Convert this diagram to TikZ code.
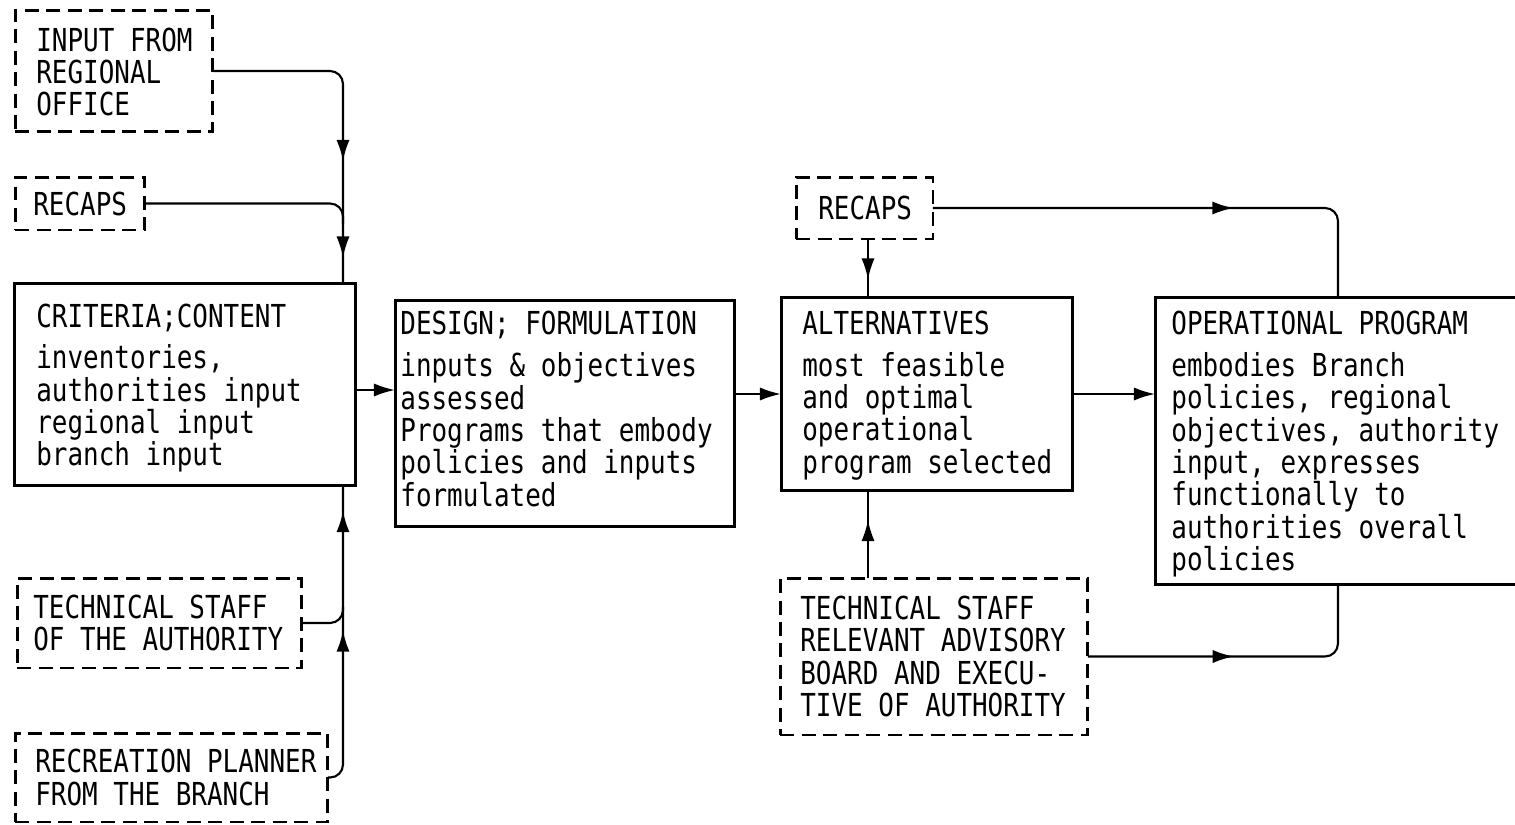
\documentclass[tikz,border=0pt]{standalone}
\usepackage{fontspec}
\newfontfamily\typewriter[FakeStretch=0.82]{DejaVu Sans Mono}
\usetikzlibrary{arrows.meta,decorations.markings}
\begin{document}
\begin{tikzpicture}[x=0.02cm,y=-0.02cm,
  >={Latex[length=12pt,width=7.5pt]},
  label/.style={font=\typewriter\fontsize{18pt}{18.4pt}\selectfont, align=left, inner sep=0pt, anchor=west},
  frame/.style={draw, line width=1.7pt, inner sep=0pt, outer sep=0pt},
  solidbox/.style={frame},
  dashbox/.style={frame, dash pattern=on 0.28cm off 0.15cm},
  link/.style={line width=1.2pt, rounded corners=0.26cm},
  tip/.style={->},
  midtips/.style={postaction={decorate}, decoration={markings, #1}},
]
\useasboundingbox (0,0) rectangle (1515,825);
\clip (0,0) rectangle (1515,825);

% ---------- boxes ----------
\node[dashbox, minimum width=3.96cm, minimum height=2.44cm] (inp) at (114,71) {};
\node[label] (inp-t) at ([xshift=0.42cm,yshift=-0.02cm]inp.west) {INPUT FROM\\REGIONAL\\OFFICE};

\node[dashbox, minimum width=2.6cm, minimum height=1.06cm] (recL) at (80,203.5) {};
\node[label] (recL-t) at ([xshift=0.36cm]recL.west) {RECAPS};

\node[solidbox, minimum width=6.84cm, minimum height=4.06cm] (crit) at (185,384.5) {};
\node[label] (crit-t) at ([xshift=0.44cm,yshift=-0.07cm]crit.west)
  {CRITERIA;CONTENT\\[0.19cm]inventories,\\authorities input\\regional input\\branch input};

\node[dashbox, minimum width=5.7cm, minimum height=1.8cm] (techL) at (159.5,623) {};
\node[label] (techL-t) at ([xshift=0.32cm]techL.west) {TECHNICAL STAFF\\OF THE AUTHORITY};

\node[dashbox, minimum width=6.26cm, minimum height=1.78cm] (rec) at (171.5,777.5) {};
\node[label] (rec-t) at ([xshift=0.40cm]rec.west) {RECREATION PLANNER\\FROM THE BRANCH};

\node[solidbox, minimum width=6.8cm, minimum height=4.54cm] (design) at (565,413.5) {};
\node[label] (design-t) at ([xshift=0.10cm,yshift=0.09cm]design.west)
  {DESIGN; FORMULATION\\[0.19cm]inputs \& objectives\\assessed\\Programs that embody\\policies and inputs\\formulated};

\node[dashbox, minimum width=2.74cm, minimum height=1.24cm] (recR) at (864.5,208) {};
\node[label] (recR-t) at ([xshift=0.44cm]recR.west) {RECAPS};

\node[solidbox, minimum width=5.84cm, minimum height=3.88cm] (alt) at (927,394) {};
\node[label] (alt-t) at ([xshift=0.42cm,yshift=-0.03cm]alt.west)
  {ALTERNATIVES\\[0.19cm]most feasible\\and optimal\\operational\\program selected};

\node[solidbox, minimum width=7.7cm, minimum height=5.76cm] (op) at (1347.5,441) {};
\node[label] (op-t) at ([xshift=0.32cm,yshift=-0.06cm]op.west)
  {OPERATIONAL PROGRAM\\[0.19cm]embodies Branch\\policies, regional\\objectives, authority\\input, expresses\\functionally to\\authorities overall\\policies};

\node[dashbox, minimum width=6.16cm, minimum height=3.14cm] (techR) at (934,656.5) {};
\node[label] (techR-t) at ([xshift=0.40cm]techR.west)
  {TECHNICAL STAFF\\RELEVANT ADVISORY\\BOARD AND EXECU-\\TIVE OF AUTHORITY};

% ---------- connector columns and junctions ----------
\coordinate (colL) at (343,0);
\coordinate (colM) at (868,0);
\coordinate (colR) at (1338,0);
\coordinate (mL1) at (343,224);
\coordinate (mL2) at (343,607);
\coordinate (critOut) at (356,390);

% ---------- left column ----------
\draw[link, midtips={mark=at position 122pt with {\arrow{>}}, mark=at position 177pt with {\arrow{>}}}]
  (inp.east) -| (colL |- crit.north);
\draw[link] (recL.east) -| (mL1);
\draw[link, midtips={mark=at position 89pt with {\arrow{>}}, mark=at position 157pt with {\arrow{>}}}]
  (rec.east) -| (colL |- crit.south);
\draw[link] (techL.east) -| (mL2);

% ---------- main flow ----------
\draw[link, tip] (critOut) -- (critOut -| design.west);
\draw[link, tip] (design.east |- alt.west) -- (alt.west);
\draw[link, tip] (alt.east) -- (alt.east -| op.west);

% ---------- right side inputs ----------
\draw[link, midtips={mark=at position 23pt with {\arrow{>}}}]
  (recR.south -| colM) -- (colM |- alt.north);
\draw[link, midtips={mark=at position 171pt with {\arrow{>}}}]
  (recR.east) -| (colR |- op.north);
\draw[link, midtips={mark=at position 33pt with {\arrow{>}}}]
  (techR.north -| colM) -- (colM |- alt.south);
\draw[link, midtips={mark=at position 83pt with {\arrow{>}}}]
  (techR.east) -| (colR |- op.south);
\end{tikzpicture}
\end{document}
